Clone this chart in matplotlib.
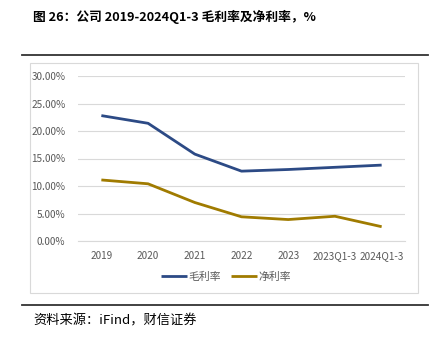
import matplotlib
matplotlib.use('Agg')
import matplotlib.pyplot as plt
from matplotlib.patches import Rectangle
from matplotlib.lines import Line2D

plt.rcParams['font.family'] = ['Noto Sans CJK SC', 'DejaVu Sans']

categories = ['2019', '2020', '2021', '2022', '2023', '2023Q1-3', '2024Q1-3']
gross_margin = [0.228, 0.214, 0.158, 0.127, 0.130, 0.134, 0.138]
net_margin = [0.111, 0.104, 0.070, 0.044, 0.039, 0.045, 0.026]
y_ticks = [0.0, 0.05, 0.10, 0.15, 0.20, 0.25, 0.30]

W, H = 439, 339
fig = plt.figure(figsize=(W / 100, H / 100), dpi=100)

# title and separator lines
fig.text(33 / W, 1 - 17 / H, '图 26：公司 2019-2024Q1-3 毛利率及净利率，%',
         fontsize=9.2, fontweight='bold', va='center', ha='left')
fig.add_artist(Line2D([22 / W, 428 / W], [1 - 55 / H] * 2, color='#333333', lw=1.3))
fig.add_artist(Line2D([22 / W, 428 / W], [1 - 305 / H] * 2, color='#333333', lw=1.3))
fig.text(33 / W, 1 - 321 / H, '资料来源：iFind，财信证券',
         fontsize=9.5, style='italic', va='center', ha='left')

# chart frame
fig.add_artist(Rectangle((30 / W, 1 - 293 / H), 388 / W, 230 / H,
                         fill=False, edgecolor='#D9D9D9', lw=0.8))

ax = fig.add_axes([78 / W, 1 - 241 / H, 327 / W, 165 / H])
x = range(len(categories))
ax.plot(x, gross_margin, color='#2C4A85', lw=2.0, label='毛利率', solid_capstyle='butt')
ax.plot(x, net_margin, color='#A07B00', lw=2.0, label='净利率', solid_capstyle='butt')

ax.set_xlim(-0.5, len(categories) - 0.5)
ax.set_ylim(0, 0.30)
ax.set_yticks(y_ticks)
ax.set_yticklabels([f'{v * 100:.2f}%' for v in y_ticks])
ax.set_xticks(list(x))
ax.set_xticklabels(categories)
ax.tick_params(axis='both', length=0, labelsize=7.2, colors='#595959')
ax.tick_params(axis='y', pad=9)
ax.tick_params(axis='x', pad=7)
ax.grid(axis='y', color='#D9D9D9', lw=0.8)
for s in ['top', 'right', 'left']:
    ax.spines[s].set_visible(False)
ax.spines['bottom'].set_color('#D9D9D9')
ax.set_axisbelow(True)

leg = fig.legend(loc='center', bbox_to_anchor=(226 / W, 1 - 277 / H), ncol=2,
                 frameon=False, fontsize=7.8, handlelength=2.4, handletextpad=0.1,
                 columnspacing=1.0)
for t in leg.get_texts():
    t.set_color('#595959')

fig.savefig('out.png', dpi=100)
